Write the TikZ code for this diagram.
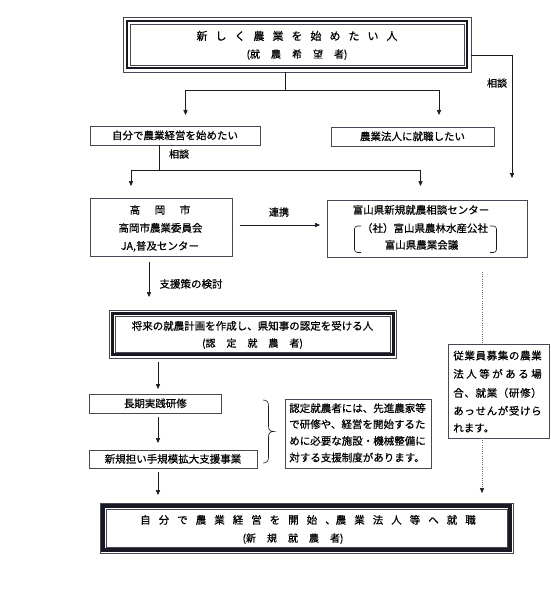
\documentclass[tikz,border=0pt]{standalone}
\usepackage{fontspec}
\setmainfont{Noto Sans CJK JP}[FakeBold=0.6]
\usetikzlibrary{arrows.meta}
\definecolor{ink}{RGB}{25,25,35}
\definecolor{boxc}{RGB}{70,72,85}
\definecolor{dotc}{RGB}{110,110,125}
\let\SpStop\relax
\def\SpStopMac{\SpStop}
\def\spgap{0pt}
\def\Sp#1{\SpA#1\SpStop}
\def\SpA#1{#1\SpB}
\def\SpB#1{\def\SpTmp{#1}\ifx\SpTmp\SpStopMac\else\hskip\spgap\relax#1\expandafter\SpB\fi}
\newcommand\tripleframe[4]{%
  \draw[line width=0.6pt,draw=boxc] (#1.north west) rectangle (#1.south east);
  \draw[line width=#3,draw=ink] ([xshift=#2,yshift=-#2]#1.north west) rectangle ([xshift=-#2,yshift=#2]#1.south east);
  \draw[line width=0.6pt,draw=boxc] ([xshift=#4,yshift=-#4]#1.north west) rectangle ([xshift=-#4,yshift=#4]#1.south east);}
\tikzset{
  conn/.style={draw=ink, line width=0.7pt},
  arr/.style={-{Triangle[length=5pt,width=4.2pt]}},
  arrd/.style={-{Triangle[length=5pt,width=4.2pt,color=ink]}},
  plainbox/.style={draw=boxc, line width=0.8pt, inner sep=0pt, outer sep=0pt, fill=white,
    text height=9pt, text depth=1.3pt, font=\fontsize{10.5}{12}\selectfont},
  framebox/.style={inner sep=0pt, outer sep=0pt},
  txt/.style={inner sep=0pt, outer sep=0pt, text height=9pt, text depth=1.3pt, font=\fontsize{10.5}{12}\selectfont},
  lbl/.style={txt, font=\fontsize{10}{12}\selectfont},
  dotline/.style={draw=dotc, line width=0.6pt, dash pattern=on 1pt off 1.2pt},
}
\begin{document}
\begin{tikzpicture}[x=1pt,y=-1pt]
\fill[white] (0,0) rectangle (550,604);
\useasboundingbox (0,0) rectangle (550,604);

% top box
\node[framebox, minimum width=348pt, minimum height=55pt] (top) at (297,44.5) {};
\tripleframe{top}{4pt}{2.8pt}{7pt}
\node[txt, font=\fontsize{11}{12}\selectfont, text height=9.5pt] (topA) at (297,36) {\def\spgap{8pt}\Sp{新しく農業を始めたい人}};
\node[txt, font=\fontsize{10}{12}\selectfont] (topB) at (297,54) {\def\spgap{11pt}\Sp{{(就}農希望{者)}}};

% second row
\node[plainbox, minimum width=170pt, minimum height=19pt] (jibun) at (175,135.5) {自分で農業経営を始めたい};
\node[plainbox, minimum width=163pt, minimum height=19pt] (houjin) at (412.5,136.5) {農業法人に就職したい};

% third row
\node[plainbox, minimum width=142pt, minimum height=58pt] (takaoka) at (161,227) {};
\node[txt] (takA) at (160,210) {\def\spgap{14.5pt}\Sp{高岡市}};
\node[txt] (takB) at (160.5,228) {高岡市農業委員会};
\node[txt] (takC) at (160,246) {JA,普及センター};

\node[plainbox, minimum width=200pt, minimum height=57pt] (toyama) at (427,228.5) {};
\node[txt] (toyA) at (421,210) {富山県新規就農相談センター};
\node[txt] (toyB) at (425,228.3) {（社）富山県農林水産公社};
\node[txt] (toyC) at (421.5,245) {富山県農業会議};
\draw[conn, line width=0.6pt, rounded corners=3pt] (361,226) -- (354.5,226) -- (354.5,252.5) -- (361,252.5);
\draw[conn, line width=0.6pt, rounded corners=3pt] (490,226) -- (496.5,226) -- (496.5,252.5) -- (490,252.5);

% certified farmer box
\node[framebox, minimum width=287pt, minimum height=48pt] (shourai) at (253,334) {};
\tripleframe{shourai}{3.2pt}{3pt}{6pt}
\node[txt] (shoA) at (252.5,326) {将来の就農計画を作成し、県知事の認定を受ける人};
\node[txt, font=\fontsize{10}{12}\selectfont] (shoB) at (252.5,343) {\def\spgap{11pt}\Sp{{(認}定就農{者)}}};

\node[plainbox, minimum width=132.6pt, minimum height=19pt] (choki) at (155.3,403.5) {長期実践研修};
\node[plainbox, minimum width=168pt, minimum height=18pt] (shinki) at (173,459) {新規担い手規模拡大支援事業};

% brace and note
\draw[conn, line width=0.6pt] (263,400) .. controls (267,400) and (268.5,402) .. (268.5,406) -- (268.5,426)
  .. controls (268.5,430) and (270,431.5) .. (274,431.5)
  .. controls (270,431.5) and (268.5,433) .. (268.5,437) -- (268.5,457)
  .. controls (268.5,461) and (267,463) .. (263,463);
\node[plainbox, minimum width=146pt, minimum height=69pt] (nintei) at (358,433.5) {};
\node[txt, anchor=west] (ninA) at (289.3,408.3) {認定就農者には、先進農家等};
\node[txt, anchor=west] (ninB) at (289.3,424.3) {で研修や、経営を開始するた};
\node[txt, anchor=west] (ninC) at (289.3,441) {めに必要な施設・機械整備に};
\node[txt, anchor=west] (ninD) at (289.3,457.7) {対する支援制度があります。};

\node[plainbox, minimum width=101pt, minimum height=94pt] (jugyo) at (498.5,391) {};
\node[txt, anchor=west] (jugA) at (453.3,355.7) {\makebox[88.4pt][s]{\def\spgap{0pt plus 1fil}\Sp{従業員募集の農業}}};
\node[txt, anchor=west] (jugB) at (453.3,374) {\makebox[88.4pt][s]{\def\spgap{0pt plus 1fil}\Sp{法人等がある場}}};
\node[txt, anchor=west] (jugC) at (453.3,393) {\makebox[88.4pt][s]{\def\spgap{0pt plus 1fil}\Sp{合、就業（研修）}}};
\node[txt, anchor=west] (jugD) at (453.3,411) {\makebox[88.4pt][s]{\def\spgap{0pt plus 1fil}\Sp{あっせんが受けら}}};
\node[txt, anchor=west] (jugE) at (453.3,428) {れます。};

% final box
\node[framebox, minimum width=413pt, minimum height=50pt] (final) at (306.5,528) {};
\tripleframe{final}{3pt}{3.2pt}{6pt}
\node[txt] (finA) at (308,520) {\def\spgap{8pt}\Sp{自分で農業経営を開始{、農}業法人等へ就職}};
\node[txt, font=\fontsize{10}{12}\selectfont] (finB) at (293,538) {\def\spgap{11pt}\Sp{{(新}規就農{者)}}};

% connectors
\draw[conn] ([xshift=-11.5pt]top.south) -- ++(0,18) coordinate (tj);
\draw[conn,arr] (tj) -| ([xshift=10.5pt,yshift=11pt]jibun.north);
\draw[conn,arr] (tj) -| ([xshift=26.5pt,yshift=12pt]houjin.north);

\draw[conn,arr] ([yshift=-10.5pt]top.east) -| ([xshift=85pt,yshift=22pt]toyama.north);
\node[lbl] (sodan1) at (497,83) {相談};

\draw[conn] ([xshift=-16pt]jibun.south) -- ++(0,25) coordinate (jt);
\draw[conn,arr] (jt) -| ([xshift=-30pt,yshift=12pt]takaoka.north);
\draw[conn,arr] (jt) -| ([xshift=-6.5pt,yshift=14pt]toyama.north);
\node[lbl] (sodan2) at (179,154) {相談};

\draw[conn,arr] ([xshift=8pt,yshift=2pt]takaoka.east) -- ([xshift=-7pt,yshift=3.5pt]toyama.west);
\node[lbl] (renkei) at (279,212) {連携};

\draw[conn,arr] ([xshift=-12pt,yshift=-6pt]takaoka.south) -- ([xshift=-104pt,yshift=13pt]shourai.north);
\node[lbl, font=\fontsize{10.5}{12}\selectfont] (shien) at (191,284) {支援策の検討};

\draw[dotline] ([xshift=55pt,yshift=-15pt]toyama.south) -- ([xshift=-16.5pt]jugyo.north);
\draw[dotline,arrd] ([xshift=-16.5pt]jugyo.south) -- ([xshift=175.5pt,yshift=10pt]final.north);

\draw[conn,arr] ([xshift=-95pt,yshift=-4pt]shourai.south) -- ([xshift=2.7pt,yshift=5pt]choki.north);
\draw[conn,arr] ([xshift=2.7pt,yshift=-4pt]choki.south) -- ([xshift=-15pt,yshift=7pt]shinki.north);
\draw[conn,arr] ([xshift=-15pt,yshift=-4pt]shinki.south) -- ([xshift=-148.5pt,yshift=8pt]final.north);
\end{tikzpicture}
\end{document}
